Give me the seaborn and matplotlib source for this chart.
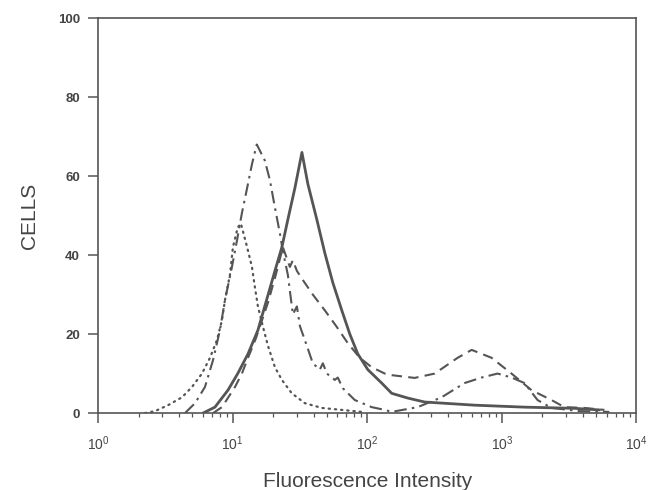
import numpy as np
import pandas as pd
import seaborn as sns
import matplotlib
matplotlib.use("Agg")
import matplotlib.pyplot as plt
from matplotlib.ticker import LogLocator, FixedLocator

# values (x = fluorescence, y = cell count)
dotted_x = [2.23, 2.65, 3.31, 4.20, 4.98, 5.91, 6.78, 7.64, 8.32, 8.76, 9.54, 10.04,
            10.9, 11.5, 12.8, 13.9, 14.6, 15.4, 16.8, 18.3, 20.6, 23.2, 27.5, 34.4,
            46.0, 64.7, 91.0]
dotted_y = [0, 0.5, 2, 4, 6.6, 10, 14, 18.5, 23.5, 28.6, 35, 42,
            47, 48, 42, 37, 32, 27, 21.8, 17, 11.6, 8.4, 5, 2.5,
            1.3, 0.8, 0.3]

dashdot_x = [4.42, 5.25, 6.22, 7.14, 8.04, 8.76, 9.87, 10.8, 11.7, 12.8, 13.9, 14.6,
             15.1, 17.3, 18.9, 20.6, 22.4, 23.6, 25.7, 28.0, 30.0, 31.6, 35.6, 39.4,
             44.4, 46.8, 50.1, 57.4, 60.4, 65.8, 80.8, 108, 135, 152, 237, 357,
             529, 708, 930, 1181, 1475, 1843, 2340, 3776, 6300]
dashdot_y = [0, 2.5, 6.6, 13.4, 21, 28.6, 37, 44, 50.6, 57, 63, 66,
             68, 64, 59, 52, 45.6, 41, 35, 25, 27, 22, 17, 12.6,
             11, 12.6, 10, 8.4, 9, 6.3, 3.3, 1.5, 0.8, 0.3, 1.5, 4,
             7.6, 9, 10, 9, 7.6, 3.3, 1.3, 0.5, 0.3]

dashed_x = [7.14, 8.32, 10.4, 11.7, 13.0, 14.9, 18.3, 20.9, 23.6, 26.6, 28.0, 30.0,
            33.2, 39.4, 48.4, 59.4, 71.7, 88.0, 108, 135, 152, 225, 317, 470,
            597, 839, 1181, 1662, 2340, 2923, 4111, 5791]
dashed_y = [0, 1.5, 6.6, 10, 14, 19, 28, 35, 42, 37, 38.7, 36,
            33.7, 30, 26, 21.8, 17.7, 14, 11.6, 10, 9.6, 8.9, 10, 14,
            16, 14, 10, 5.8, 3.3, 1.5, 1.3, 0.8]

solid_x = [6.02, 7.38, 9.22, 10.9, 13.0, 15.4, 17.3, 20.6, 23.2, 25.7, 29.0, 32.7,
           36.2, 42.2, 48.4, 55.5, 64.7, 74.2, 85.0, 101, 128, 152, 200, 267,
           628, 1475, 3467, 5310]
solid_y = [0, 1.5, 5.8, 10, 15, 21, 27, 36, 42, 49, 57, 66,
           58, 49, 40.5, 33, 26, 20, 15, 11, 7.6, 5, 3.8, 2.8,
           2, 1.5, 1.2, 0.8]

y_ticks = [0, 20, 40, 60, 80, 100]
x_ticks = [1, 10, 100, 1000, 10000]

sns.set_style("ticks")
plt.rcParams['font.family'] = ['Liberation Sans', 'DejaVu Sans']
plt.rcParams['mathtext.fontset'] = 'custom'
plt.rcParams['mathtext.rm'] = 'Liberation Sans'

ink = "#555555"
fig = plt.figure(figsize=(6.5, 4.9), dpi=100)
ax = fig.add_axes([0.151, 0.157, 0.828, 0.806])

sns.lineplot(x=dotted_x, y=dotted_y, ax=ax, color=ink, lw=1.6,
             linestyle=(0, (0.6, 2.2)), dash_capstyle="round", estimator=None, sort=False)
sns.lineplot(x=dashdot_x, y=dashdot_y, ax=ax, color=ink, lw=1.5,
             linestyle=(0, (6, 2.5, 1.2, 2.5)), estimator=None, sort=False)
sns.lineplot(x=dashed_x, y=dashed_y, ax=ax, color=ink, lw=1.5,
             linestyle=(0, (5, 3)), estimator=None, sort=False)
sns.lineplot(x=solid_x, y=solid_y, ax=ax, color=ink, lw=2.0,
             estimator=None, sort=False)

ax.set_xscale("log")
ax.set_xlim(1, 10000)
ax.set_ylim(0, 100)
ax.xaxis.set_major_locator(FixedLocator(x_ticks))
ax.set_xticklabels([r"$10^{%d}$" % int(np.log10(v)) for v in x_ticks])
ax.xaxis.set_minor_locator(LogLocator(base=10, subs=np.arange(2, 10)))
ax.set_yticks(y_ticks)
ax.set_yticklabels([str(v) for v in y_ticks], fontweight="bold")

for s in ax.spines.values():
    s.set_visible(True)
    s.set_color(ink)
    s.set_linewidth(1.2)

ax.tick_params(axis="both", which="major", direction="out", length=7, width=1.1,
               color=ink, labelcolor="#444444")
ax.tick_params(axis="y", labelsize=9.5, pad=6)
ax.tick_params(axis="x", labelsize=10, pad=8)
ax.tick_params(axis="x", which="minor", direction="out", length=3, width=0.9, color=ink)

ax.set_xlabel("Fluorescence Intensity", fontsize=15, color="#444444", labelpad=14)
ax.set_ylabel("CELLS", fontsize=15, color="#444444", labelpad=14)

fig.savefig("out.png", dpi=100)
